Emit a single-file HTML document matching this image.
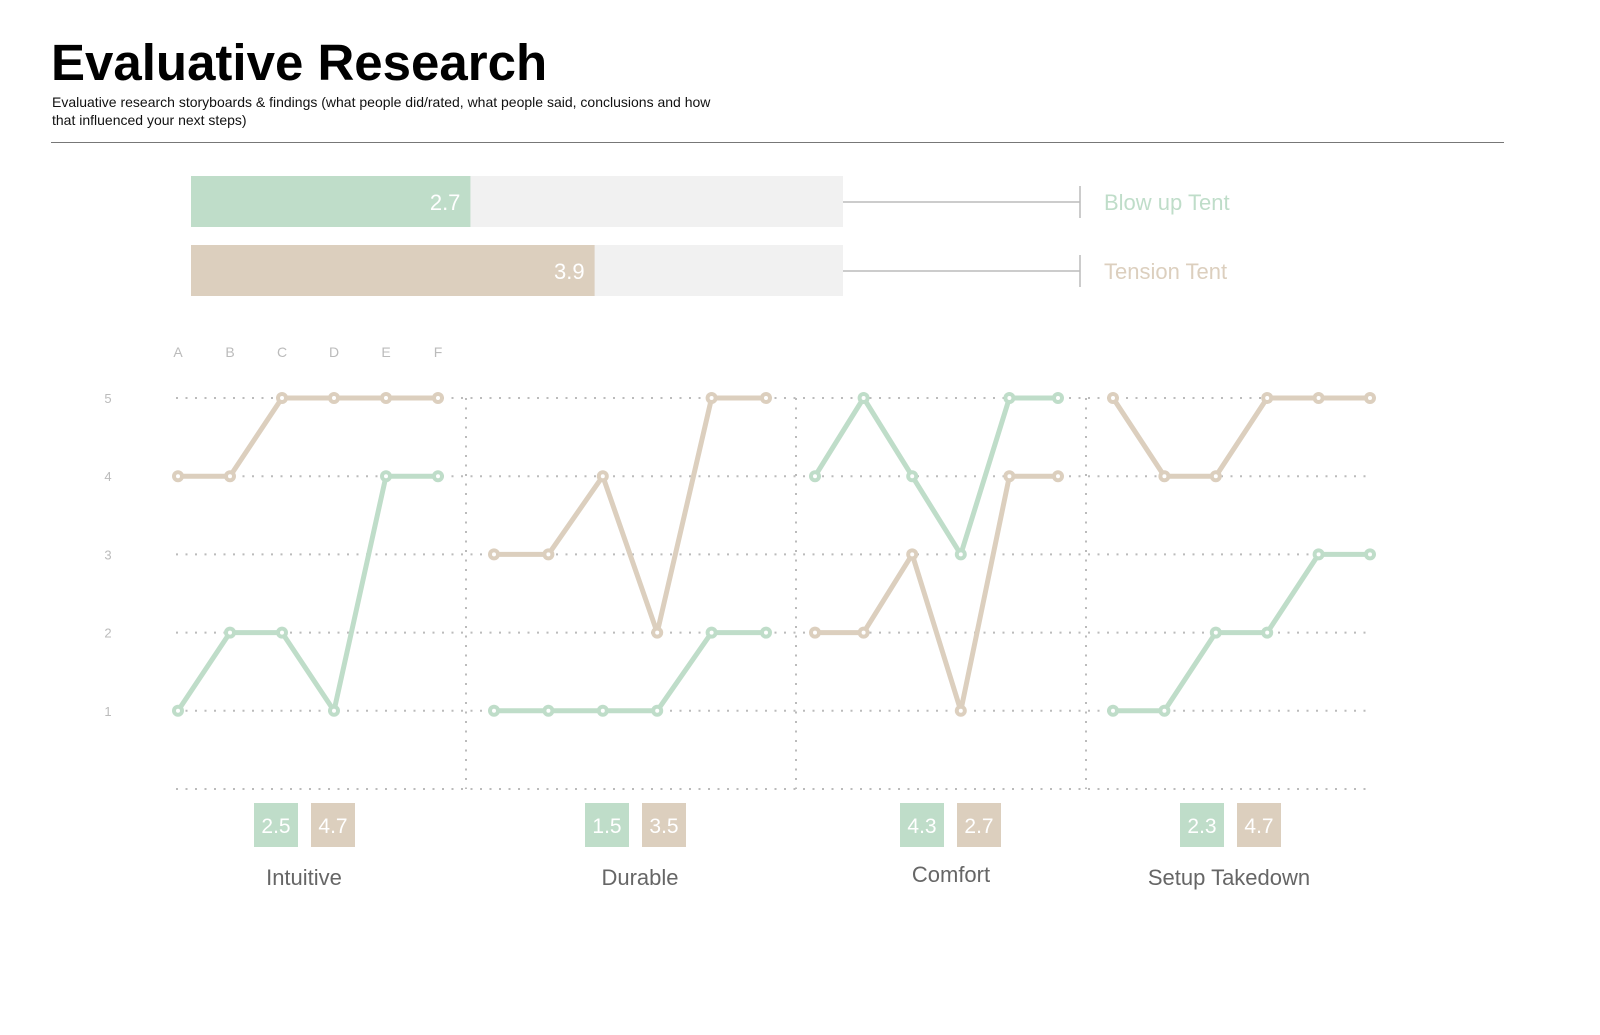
<!DOCTYPE html>
<html><head><meta charset="utf-8"><style>
html,body{margin:0;padding:0;background:#fff;}
body{width:1600px;height:1035px;position:relative;overflow:hidden;font-family:"Liberation Sans",sans-serif;}
svg{position:absolute;left:0;top:0;}
</style></head><body>
<svg width="1600" height="1035" id="chart">
  <text x="51" y="80" font-size="51" font-weight="bold" fill="#000">Evaluative Research</text>
  <text x="52" y="107" font-size="14" fill="#111">Evaluative research storyboards &amp; findings (what people did/rated, what people said, conclusions and how</text>
  <text x="52" y="125" font-size="14" fill="#111">that influenced your next steps)</text>
  <line x1="51" y1="142.5" x2="1504" y2="142.5" stroke="#777" stroke-width="1"/>
  <g id="bars"></g>
  <g id="grid"></g>
  <g id="lines"></g>
  <g id="summary"></g>
</svg>
<script>
const NS='http://www.w3.org/2000/svg';
const svg=document.getElementById('chart');
function mk(tag,attrs,parent){const e=document.createElementNS(NS,tag);for(const k in attrs)e.setAttribute(k,attrs[k]);(parent||svg).appendChild(e);return e;}
const GREEN='#bfddc9', TAN='#dccfbe';

// Overall bars
const overallNames=['Blow up Tent','Tension Tent'];
const overallValues=[2.7,3.9];
const overallMax=6.3;
const barG=document.getElementById('bars');
const bx0=191,bx1=843;
function bx(v){return bx0+(bx1-bx0)*v/overallMax;}
overallValues.forEach((v,i)=>{
  const y=176+i*69, col=i?TAN:GREEN;
  let e=mk('rect',{x:bx0,y:y,width:bx1-bx0,height:51,fill:'#f1f1f1'},barG);
  
  
  e=mk('rect',{x:bx0,y:y,width:bx(v)-bx0,height:51,fill:col},barG);
  
  
  e=mk('text',{x:bx(v)-10,y:y+34,'font-size':22,fill:'#fff','text-anchor':'end'},barG);
  e.textContent=v.toFixed(1);
  
  
  e=mk('line',{x1:bx1,y1:y+26,x2:1080,y2:y+26,stroke:'#bbb','stroke-width':1.5},barG);
  
  
  e=mk('line',{x1:1080,y1:y+10,x2:1080,y2:y+42,stroke:'#bbb','stroke-width':1.5},barG);
  
  
  e=mk('text',{x:1104,y:y+34,'font-size':22,fill:col},barG);
  e.textContent=overallNames[i];
  
  
});

// Line panels
const categories=['Intuitive','Durable','Comfort','Setup Takedown'];
const participants=['A','B','C','D','E','F'];
const yTicks=[1,2,3,4,5];
const greenSeries=[[1,2,2,1,4,4],[1,1,1,1,2,2],[4,5,4,3,5,5],[1,1,2,2,3,3]];
const tanSeries=[[4,4,5,5,5,5],[3,3,4,2,5,5],[2,2,3,1,4,4],[5,4,4,5,5,5]];
const greenAvg=['2.5','1.5','4.3','2.3'];
const tanAvg=['4.7','3.5','2.7','4.7'];

const panelStart=[178,494,815,1113], panelEnd=[438,766,1058,1370];
function px(p,i){return panelStart[p]+(panelEnd[p]-panelStart[p])*i/(participants.length-1);}
function py(v){return 789-78.2*v;}

const gridG=document.getElementById('grid');
[0].concat(yTicks).forEach(t=>{
  let e=mk('line',{x1:176,y1:py(t),x2:1370,y2:py(t),stroke:'#bbb','stroke-width':2,'stroke-dasharray':'2 7.5'},gridG);
  
  
  if(t>0){
    e=mk('text',{x:108,y:py(t)+5,'font-size':13,fill:'#bbb','text-anchor':'middle'},gridG);
    e.textContent=t;
    
    
  }
});
[466,796,1086].forEach(x=>{
  const e=mk('line',{x1:x,y1:py(5),x2:x,y2:py(0),stroke:'#bbb','stroke-width':2,'stroke-dasharray':'2 7.5'},gridG);
  
  
});
participants.forEach((l,i)=>{
  const e=mk('text',{x:px(0,i),y:357,'font-size':14,fill:'#bbb','text-anchor':'middle'},gridG);
  e.textContent=l;
  
  
});

const lineG=document.getElementById('lines');
function series(p,vals,col,name){
  const pts=vals.map((v,i)=>px(p,i)+','+py(v)).join(' ');
  let e=mk('polyline',{points:pts,fill:'none',stroke:col,'stroke-width':5,'stroke-linejoin':'round'},lineG);
  
  
  vals.forEach((v,i)=>{
    e=mk('circle',{cx:px(p,i),cy:py(v),r:6,fill:col},lineG);
    
    
    e=mk('circle',{cx:px(p,i),cy:py(v),r:2,fill:'#fff'},lineG);
    
    
  });
}
categories.forEach((c,p)=>{
  series(p,tanSeries[p],TAN,'tension-tent');
  series(p,greenSeries[p],GREEN,'blow-up-tent');
});

const sumG=document.getElementById('summary');
const boxX=[254,585,900,1180];
const labelX=[304,640,951,1229];
categories.forEach((c,p)=>{
  [[greenAvg[p],GREEN,0],[tanAvg[p],TAN,57]].forEach(([v,col,off])=>{
    let e=mk('rect',{x:boxX[p]+off,y:803,width:44,height:44,fill:col},sumG);
    
    
    e=mk('text',{x:boxX[p]+off+22,y:833,'font-size':21,fill:'#fff','text-anchor':'middle'},sumG);
    e.textContent=v;
    
    
  });
  const e=mk('text',{x:labelX[p],y:p===2?882:885,'font-size':22,fill:'#666','text-anchor':'middle'},sumG);
  e.textContent=c;
  
  
});
</script>
</body></html>
